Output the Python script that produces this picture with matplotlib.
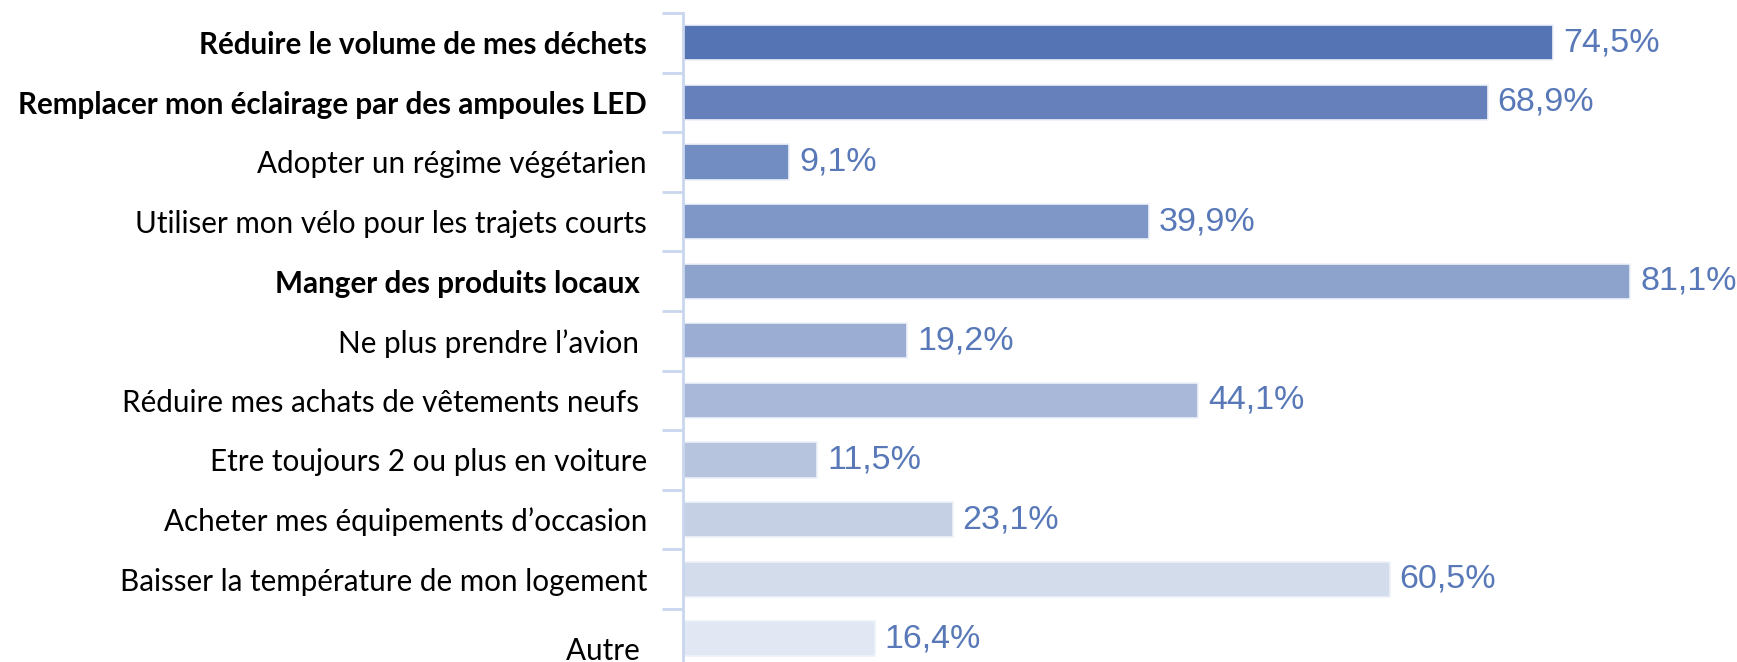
import matplotlib.pyplot as plt
import matplotlib.transforms as mtransforms
import numpy as np

categories = [
    "Réduire le volume de mes déchets",
    "Remplacer mon éclairage par des ampoules LED",
    "Adopter un régime végétarien",
    "Utiliser mon vélo pour les trajets courts",
    "Manger des produits locaux ",
    "Ne plus prendre l\u2019avion ",
    "Réduire mes achats de vêtements neufs ",
    "Etre toujours 2 ou plus en voiture",
    "Acheter mes équipements d\u2019occasion",
    "Baisser la température de mon logement",
    "Autre ",
]
values = [74.5, 68.9, 9.1, 39.9, 81.1, 19.2, 44.1, 11.5, 23.1, 60.5, 16.4]
value_labels = ["74,5%", "68,9%", "9,1%", "39,9%", "81,1%", "19,2%",
                "44,1%", "11,5%", "23,1%", "60,5%", "16,4%"]
bold_labels = [0, 1, 4]
bar_colors = ["#5574b3", "#6580bb", "#728dc1", "#7f97c6", "#8ea3cc", "#9badd2",
              "#a9b8d8", "#b7c4de", "#c5d0e5", "#d3dcea", "#e1e8f3"]

W, H = 1737, 662
fig = plt.figure(figsize=(W / 100, H / 100), dpi=100)
ax_left, ax_top, ax_bottom = 683, 13, 662
px_per_unit = 11.68
x_max = 90
ax = fig.add_axes([ax_left / W, 0, x_max * px_per_unit / W, (ax_bottom - ax_top) / H])

y = np.arange(len(categories))
ax.barh(y, values, height=0.59, color=bar_colors, edgecolor="#eef2f9", linewidth=1.2)
for yi, v, lab in zip(y, values, value_labels):
    ax.text(v + 0.85, yi, lab, va="center", ha="left", fontsize=24.5,
            family="Liberation Sans", color="#5878b8")

ax.set_xlim(0, x_max)
ax.set_ylim(10.39, -0.5)
ax.set_xticks([])
ax.set_yticks(y)
ax.set_yticklabels(categories, fontsize=21.3, family="Lato")
ax.tick_params(axis="y", which="major", length=0, pad=26)
ax.set_yticks(np.arange(-0.5, 10, 1), minor=True)
ax.tick_params(axis="y", which="minor", length=15, width=2, color="#c9d6ee")
for i, t in enumerate(ax.get_yticklabels()):
    if i in bold_labels:
        t.set_fontweight("bold")
last = ax.get_yticklabels()[-1]
last.set_transform(last.get_transform() + mtransforms.ScaledTranslation(0, -7 / 72, fig.dpi_scale_trans))

for s in ["top", "right", "bottom"]:
    ax.spines[s].set_visible(False)
ax.spines["left"].set_color("#c9d6ee")
ax.spines["left"].set_linewidth(2)

fig.savefig("out.png", dpi=100)
